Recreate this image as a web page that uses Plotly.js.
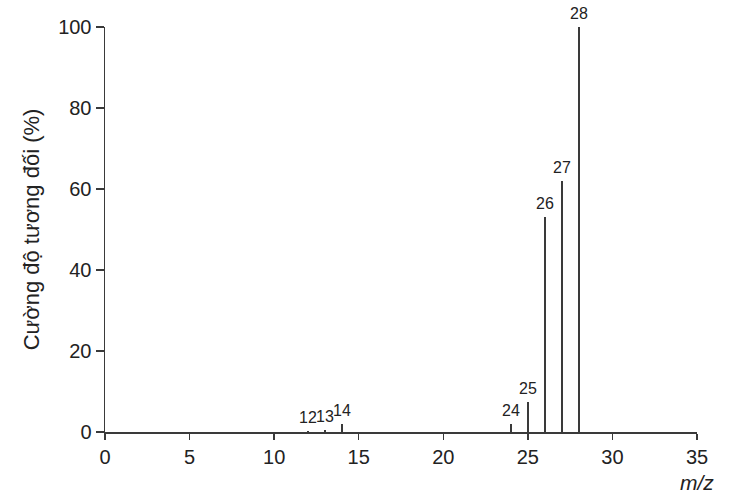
<!DOCTYPE html>
<html>
<head>
<meta charset="utf-8">
<script src="https://cdn.plot.ly/plotly-3.0.1.min.js"></script>
<style>
  body { margin: 0; background: #fff; }
  #plot { width: 752px; height: 500px; }
</style>
</head>
<body>
<div id="plot"></div>
<script>
// phổ khối: m/z và cường độ tương đối (%)
const mz = [12, 13, 14, 24, 25, 26, 27, 28];
const intensity = [0.3, 0.6, 2.0, 2.0, 7.5, 53, 62, 100];
const peakLabels = ["12", "13", "14", "24", "25", "26", "27", "28"];

const xTicks = [0, 5, 10, 15, 20, 25, 30, 35];
const yTicks = [0, 20, 40, 60, 80, 100];

const ink = "#3a3a3a";
const font = "Liberation Sans, Arial, sans-serif";

const trace = {
  type: "bar",
  x: mz,
  y: intensity,
  width: 0.13,
  marker: { color: ink, line: { width: 0 } },
  hoverinfo: "x+y"
};

// nhãn trên đỉnh mỗi vạch
const annotations = mz.map((m, i) => ({
  x: m,
  y: intensity[i],
  xref: "x",
  yref: "y",
  text: peakLabels[i],
  showarrow: false,
  yanchor: "bottom",
  yshift: 3,
  font: { family: font, size: 16, color: "#222" }
}));

// nhãn trục x
annotations.push({
  x: 35, y: 0,
  xref: "x", yref: "paper",
  xanchor: "center", yanchor: "middle",
  yshift: -50,
  text: "<i>m/z</i>",
  showarrow: false,
  font: { family: font, size: 21, color: "#222" }
});

const layout = {
  width: 752,
  height: 500,
  margin: { l: 105, r: 55, t: 27, b: 68 },
  paper_bgcolor: "#fff",
  plot_bgcolor: "#fff",
  showlegend: false,
  bargap: 0,
  xaxis: {
    range: [0, 35],
    tickvals: xTicks,
    ticktext: xTicks.map(String),
    ticks: "outside",
    ticklen: 6,
    tickwidth: 1.5,
    tickcolor: ink,
    showline: true,
    linecolor: ink,
    linewidth: 1.5,
    showgrid: false,
    zeroline: false,
    tickfont: { family: font, size: 20, color: "#222" }
  },
  yaxis: {
    range: [0, 100],
    tickvals: yTicks,
    ticktext: yTicks.map(String),
    ticks: "outside",
    ticklen: 8,
    tickwidth: 1.5,
    tickcolor: ink,
    showline: true,
    linecolor: ink,
    linewidth: 1.5,
    showgrid: false,
    zeroline: false,
    tickfont: { family: font, size: 20, color: "#222" },
    title: {
      text: "Cường độ tương đối (%)",
      font: { family: font, size: 22, color: "#222" },
      standoff: 12
    }
  },
  annotations: annotations
};

Plotly.newPlot("plot", [trace], layout, { displayModeBar: false, staticPlot: true });
</script>
</body>
</html>
